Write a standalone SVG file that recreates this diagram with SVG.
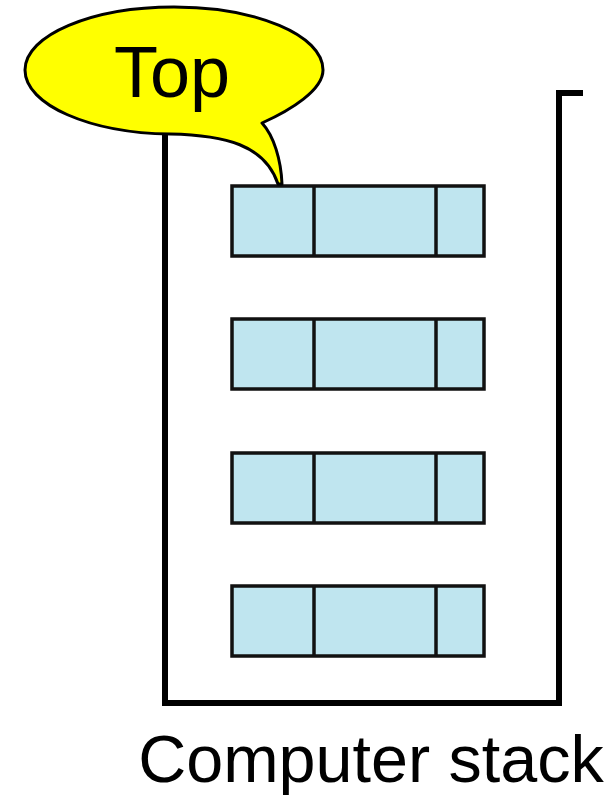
<svg xmlns="http://www.w3.org/2000/svg" width="613" height="795" viewBox="0 0 613 795">
<style>
.frame{fill:none;stroke:#000;stroke-width:6;stroke-linejoin:miter}
.cell{fill:#bfe5ef;stroke:#111;stroke-width:3.5}
.div{stroke:#111;stroke-width:3.5}
.lbl{font-family:"Liberation Sans",Arial,sans-serif;fill:#000}
</style>
<g id="stack-frame">
<path class="frame" d="M165,135 V703 H559 V93 H583"/>
</g>
<g id="item1">
<rect class="cell" x="232" y="186" width="252" height="70"/>
<line class="div" x1="314" y1="186" x2="314" y2="256"/>
<line class="div" x1="436" y1="186" x2="436" y2="256"/>
</g>
<g id="item2">
<rect class="cell" x="232" y="319" width="252" height="70"/>
<line class="div" x1="314" y1="319" x2="314" y2="389"/>
<line class="div" x1="436" y1="319" x2="436" y2="389"/>
</g>
<g id="item3">
<rect class="cell" x="232" y="453" width="252" height="70"/>
<line class="div" x1="314" y1="453" x2="314" y2="523"/>
<line class="div" x1="436" y1="453" x2="436" y2="523"/>
</g>
<g id="item4">
<rect class="cell" x="232" y="586" width="252" height="70"/>
<line class="div" x1="314" y1="586" x2="314" y2="656"/>
<line class="div" x1="436" y1="586" x2="436" y2="656"/>
</g>
<g id="top-callout">
<path d="M262,123 C291,110 323,90 323,70 C323,35 256,7 174,7 C92,7 25,35 25,70 C25,105 90,133 170,134 C225,135 265,145 278,184 L282,184 C281,160 274,136 262,123 Z" fill="#ffff00" stroke="#000" stroke-width="3" stroke-linejoin="round"/>
<text class="lbl" x="172" y="97" font-size="72" text-anchor="middle">Top</text>
</g>
<g id="caption">
<text class="lbl" x="371" y="782" font-size="66.5" text-anchor="middle">Computer stack</text>
</g>
</svg>
